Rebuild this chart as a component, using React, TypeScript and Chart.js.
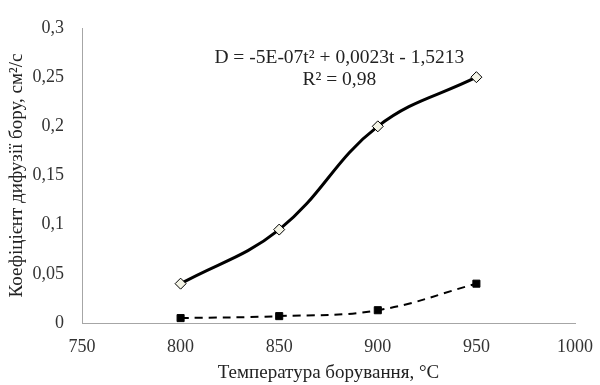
import React, { useEffect, useRef } from "react";
import { Chart, registerables } from "chart.js";

Chart.register(...registerables);

const temperatures = [800, 850, 900, 950];
const diffusionMain = [0.04, 0.095, 0.2, 0.25];
const diffusionLow = [0.005, 0.007, 0.013, 0.04];
const equationLines = ["D = -5E-07t² + 0,0023t - 1,5213", "R² = 0,98"];
const xTitle = "Температура борування, °C";
const yTitle = "Коефіцієнт дифузії бору, см²/с";

const FONT = "'Liberation Serif', 'Times New Roman', serif";

const equationPlugin = {
  id: "equation",
  afterDatasetsDraw(chart: any) {
    const { ctx, scales } = chart;
    const x = scales.x.getPixelForValue(880.5);
    const y0 = scales.y.getPixelForValue(0.2696);
    const y1 = scales.y.getPixelForValue(0.2472);
    ctx.save();
    ctx.fillStyle = "#222";
    ctx.font = `19.5px ${FONT}`;
    ctx.textAlign = "center";
    ctx.textBaseline = "middle";
    ctx.fillText(equationLines[0], x, y0);
    ctx.fillText(equationLines[1], x, y1);
    ctx.restore();
  },
};

export default function App() {
  const ref = useRef<HTMLCanvasElement>(null);
  useEffect(() => {
    document.body.style.margin = "0";
    const fmt = (v: any) => Number(Number(v).toFixed(3)).toString().replace(".", ",");
    const chart = new Chart(ref.current!, {
      type: "scatter",
      data: {
        datasets: [
          {
            data: temperatures.map((t, i) => ({ x: t, y: diffusionMain[i] })),
            showLine: true,
            borderColor: "#000",
            borderWidth: 3,
            tension: 0.4,
            pointStyle: "rectRot",
            pointRadius: 5.5,
            pointBackgroundColor: "#f4f4e6",
            pointBorderColor: "#000",
            pointBorderWidth: 1,
          },
          {
            data: temperatures.map((t, i) => ({ x: t, y: diffusionLow[i] })),
            showLine: true,
            borderColor: "#000",
            borderWidth: 2,
            borderDash: [8, 6],
            tension: 0.4,
            pointStyle: "rect",
            pointRadius: 5,
            pointBackgroundColor: "#000",
            pointBorderColor: "#000",
            pointBorderWidth: 1,
          },
        ],
      },
      options: {
        animation: false,
        responsive: false,
        layout: { padding: { top: 28, right: 25, left: 6, bottom: 0.6 } },
        plugins: { legend: { display: false }, tooltip: { enabled: false } },
        scales: {
          x: {
            type: "linear",
            min: 750,
            max: 1000,
            afterFit: (s: any) => { s.height = 61.4; s.paddingRight = 0; s.paddingLeft = 0; },
            ticks: { stepSize: 50, color: "#333", font: { family: FONT, size: 18 }, padding: 13, callback: (v: any) => String(v) },
            grid: { display: false, drawTicks: false },
            border: { display: true, color: "#a6a6a6", width: 1 },
            title: { display: true, text: xTitle, color: "#222", font: { family: FONT, size: 19 }, padding: { top: 0, bottom: 0 } },
          },
          y: {
            min: 0,
            max: 0.3,
            afterFit: (s: any) => { s.width = 76; s.paddingTop = 0; s.paddingBottom = 0; },
            ticks: { stepSize: 0.05, color: "#333", font: { family: FONT, size: 18 }, padding: 18, callback: fmt },
            grid: { display: false, drawTicks: false },
            border: { display: true, color: "#a6a6a6", width: 1 },
            title: { display: true, text: yTitle, color: "#222", font: { family: FONT, size: 19 }, padding: { top: 0, bottom: 0 } },
          },
        },
      },
      plugins: [equationPlugin],
    });
    return () => chart.destroy();
  }, []);
  return (
    <div style={{ width: 600, height: 385 }}>
      <canvas ref={ref} width={600} height={385} />
    </div>
  );
}
